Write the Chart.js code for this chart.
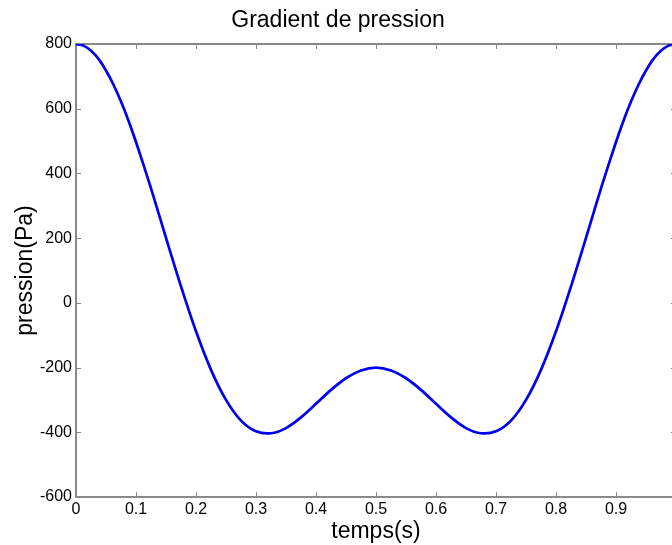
<!DOCTYPE html>
<html>
<head>
<meta charset="utf-8">
<script src="https://cdn.jsdelivr.net/npm/chart.js@4"></script>
<style>
  html, body { margin: 0; padding: 0; background: #fff; overflow: hidden; }
  #wrap { width: 672px; height: 545px; overflow: hidden; }
</style>
</head>
<body>
<div id="wrap"><canvas id="chart" width="676" height="545"></canvas></div>
<script>
// time samples (s) and pressure gradient (Pa)
const temps = [0, 0.0125, 0.025, 0.0375, 0.05, 0.0625, 0.075, 0.0875, 0.1,
  0.125, 0.15, 0.175, 0.2, 0.225, 0.25, 0.275, 0.3, 0.325, 0.35, 0.375,
  0.4, 0.425, 0.45, 0.475, 0.5, 0.525, 0.55, 0.575, 0.6, 0.625,
  0.65, 0.675, 0.7, 0.725, 0.75, 0.775, 0.8, 0.825, 0.85, 0.875,
  0.9, 0.9125, 0.925, 0.9375, 0.95, 0.9625, 0.975, 0.9875, 1];
const pression = [800, 795, 779, 754, 718, 674, 622, 563, 497,
  354, 201, 51, -88, -207, -300, -364, -397, -403, -387, -354,
  -312, -269, -233, -209, -200, -209, -233, -269, -312, -354,
  -387, -403, -397, -364, -300, -207, -88, 51, 201, 354,
  497, 563, 622, 674, 718, 754, 779, 795, 800];

const xTickValues = [0, 0.1, 0.2, 0.3, 0.4, 0.5, 0.6, 0.7, 0.8, 0.9, 1];
const xTickLabels = ['0', '0.1', '0.2', '0.3', '0.4', '0.5', '0.6', '0.7', '0.8', '0.9', '1'];
const yTickValues = [-600, -400, -200, 0, 200, 400, 600, 800];
const yTickLabels = ['-600', '-400', '-200', '0', '200', '400', '600', '800'];

const FONT = "'Liberation Sans', Arial, sans-serif";
const AXIS_GREY = '#8a8a8a';

// matlab-like box with inward ticks on all four sides
const boxPlugin = {
  id: 'box',
  beforeDatasetsDraw(chart) {
    const { ctx, chartArea: a, scales } = chart;
    const len = 5;
    ctx.save();
    ctx.strokeStyle = AXIS_GREY;
    ctx.lineWidth = 1;
    ctx.beginPath();
    xTickValues.forEach(v => {
      const px = Math.round(scales.x.getPixelForValue(v)) + 0.5;
      ctx.moveTo(px, a.bottom); ctx.lineTo(px, a.bottom - len);
      ctx.moveTo(px, a.top); ctx.lineTo(px, a.top + len);
    });
    yTickValues.forEach(v => {
      const py = Math.round(scales.y.getPixelForValue(v)) + 0.5;
      ctx.moveTo(a.left, py); ctx.lineTo(a.left + len, py);
      ctx.moveTo(a.right, py); ctx.lineTo(a.right - len, py);
    });
    ctx.stroke();
    ctx.lineWidth = 2;
    ctx.strokeRect(a.left, a.top, a.right - a.left, a.bottom - a.top);
    ctx.restore();
  }
};

new Chart(document.getElementById('chart'), {
  type: 'line',
  data: {
    datasets: [{
      data: temps.map((t, i) => ({ x: t, y: pression[i] })),
      borderColor: '#0000ee',
      borderWidth: 2.7,
      pointRadius: 0,
      tension: 0.3,
      fill: false
    }]
  },
  options: {
    responsive: false,
    animation: false,
    layout: { padding: 0 },
    plugins: {
      legend: { display: false },
      tooltip: { enabled: false },
      title: {
        display: true,
        text: 'Gradient de pression',
        color: '#000',
        font: { family: FONT, size: 23, weight: 'normal', lineHeight: 1.2 },
        padding: { top: 7, bottom: 9.4 }
      }
    },
    scales: {
      x: {
        type: 'linear',
        min: 0,
        max: 1,
        grid: { display: false, drawTicks: false },
        border: { display: false },
        afterBuildTicks: s => { s.ticks = xTickValues.map(v => ({ value: v })); },
        afterFit: s => { s.height = 48; s.paddingLeft = 0; s.paddingRight = 0; },
        ticks: {
          color: '#000',
          padding: 3,
          maxRotation: 0,
          autoSkip: false,
          font: { family: FONT, size: 16 },
          callback: (v, i) => xTickLabels[i]
        },
        title: {
          display: true,
          text: 'temps(s)',
          color: '#000',
          font: { family: FONT, size: 23, lineHeight: 1.2 },
          padding: { top: 0, bottom: 0 }
        }
      },
      y: {
        type: 'linear',
        min: -600,
        max: 800,
        grid: { display: false, drawTicks: false },
        border: { display: false },
        afterBuildTicks: s => { s.ticks = yTickValues.map(v => ({ value: v })); },
        afterFit: s => { s.width = 76; s.paddingTop = 0; s.paddingBottom = 0; },
        ticks: {
          color: '#000',
          padding: 4,
          autoSkip: false,
          font: { family: FONT, size: 16 },
          callback: (v, i) => yTickLabels[i]
        },
        title: {
          display: true,
          text: 'pression(Pa)',
          color: '#000',
          font: { family: FONT, size: 23, lineHeight: 1.2 },
          padding: { top: 12, bottom: 0 }
        }
      }
    }
  },
  plugins: [boxPlugin]
});
</script>
</body>
</html>
